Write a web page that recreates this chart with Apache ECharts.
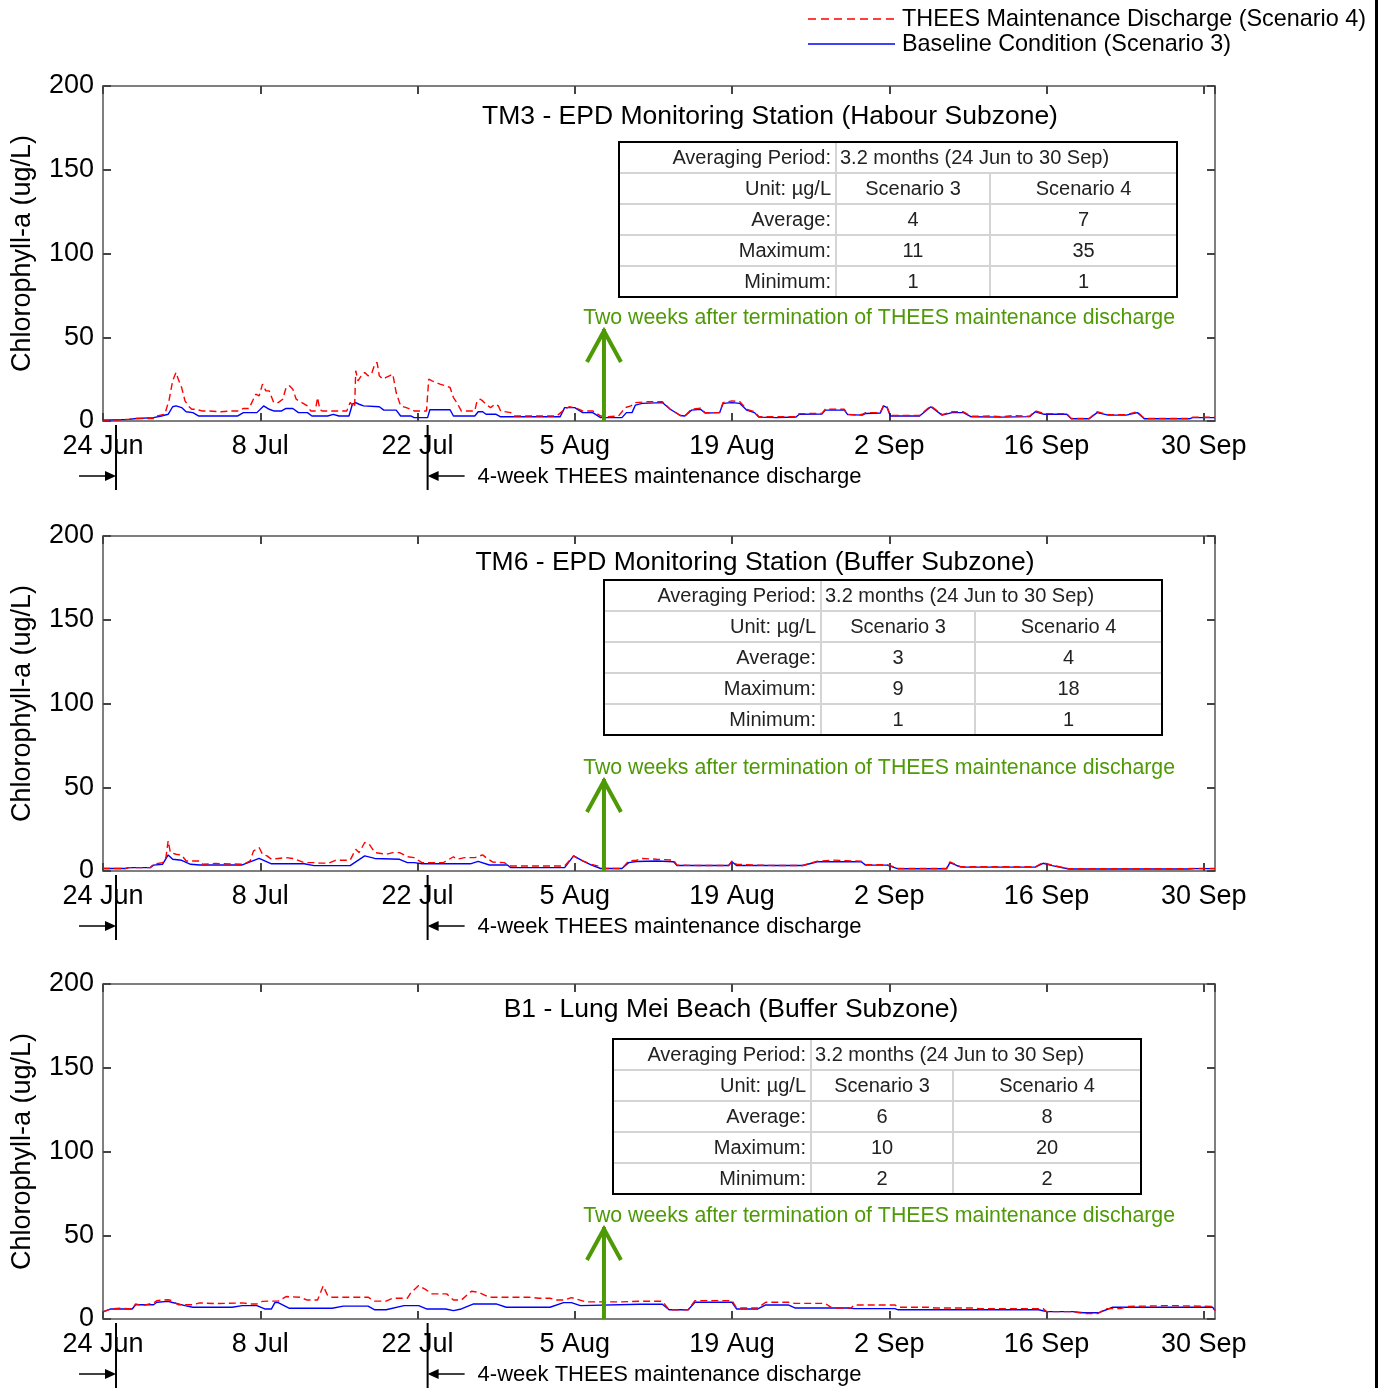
<!DOCTYPE html>
<html><head><meta charset="utf-8">
<script src="https://cdn.jsdelivr.net/npm/echarts@6/dist/echarts.min.js"></script>
<style>html,body{margin:0;padding:0;background:#fff}#c{width:1384px;height:1388px}</style>
</head><body><div id="c"></div>
<script>
// ---- data (x = days after 24 Jun, y = chlorophyll-a ug/L) ----
const tickLabels = ['24 Jun','8 Jul','22 Jul','5 Aug','19 Aug','2 Sep','16 Sep','30 Sep'];
const seriesNames = ['THEES Maintenance Discharge (Scenario 4)','Baseline Condition (Scenario 3)'];
const panelTitles = ['TM3 - EPD Monitoring Station (Habour Subzone)','TM6 - EPD Monitoring Station (Buffer Subzone)','B1 - Lung Mei Beach (Buffer Subzone)'];

const tm3S4 = [[0,0.5],[1,0.5],[2.3,1],[3,1.5],[4.5,1.5],[4.8,3],[5.5,4],[5.9,13],[6.2,24],[6.5,29],[6.7,25],[7,20],[7.3,12],[7.6,9],[7.9,7],[8.3,7],[8.8,6],[9.3,6],[10.5,5.5],[11.5,6],[12.1,6],[12.5,7.5],[13,7.5],[13.6,16],[13.9,15],[14.2,22],[14.5,18],[14.8,18],[15.2,11],[15.6,11],[16,13],[16.3,20],[16.6,21],[16.9,19],[17.2,13],[17.7,11],[18.2,9],[18.5,6],[18.9,6],[19.1,14],[19.3,7],[19.5,6],[20.5,6],[21.7,6],[22,11],[22.4,8],[22.5,30],[22.7,24],[23,27],[23.3,29],[23.6,27],[23.9,28],[24.2,34],[24.4,35],[24.6,27],[24.9,25],[25.2,26],[25.5,27],[25.8,28],[26.1,17],[26.5,9],[27,8],[27.4,7],[27.7,6],[28.3,6],[28.8,6],[29,25],[29.3,24],[30,22],[30.5,21],[30.9,20],[31.2,14],[31.5,11],[31.9,6],[32.5,6],[33.1,6],[33.3,12],[33.6,13],[33.8,12],[34.1,10],[34.5,8],[34.9,10],[35.2,9],[35.4,6],[36.3,5],[36.6,3],[38,3],[40.4,3],[41.1,7],[41.5,8.5],[42,8],[42.7,6],[43.6,6],[44.3,3],[45,2.5],[45.9,3],[46.5,8],[47,9],[47.4,11],[48.5,11.5],[49.8,11.5],[50.5,7],[51.4,3.3],[51.8,3],[52.4,7],[53.2,7.7],[53.6,5],[54.9,5],[55.2,11],[56,12],[56.7,11.5],[57.3,7],[58,5.5],[58.4,2.6],[60,2.5],[61.7,2.6],[62,4.4],[64,4.5],[64.3,7],[66,7],[66.3,4],[67.2,3.5],[67.6,4],[67.9,5],[69.2,5],[69.5,9.5],[69.8,8.5],[70.1,3.3],[72.7,3.3],[73.7,9],[74.7,3.8],[75.6,5.5],[76.6,5.5],[77.3,2.8],[79,3],[80,2.5],[81,3.2],[82.5,2.8],[83,6],[83.8,4.4],[85.8,4.4],[86.2,1.5],[87.8,1.5],[88.5,5.5],[89.5,3.8],[91.1,3.8],[92.1,5.5],[92.7,1.5],[96.7,1.5],[97,2.2],[99,2.2]];
const tm3S3 = [[0,0.5],[2.3,1],[3,1.5],[4.5,2],[5.2,3],[5.8,4],[6.2,8.5],[6.5,9],[7,8],[7.4,5.5],[8,5],[8.5,3],[10,3],[12,3],[12.5,5],[13.7,5],[14.3,9],[14.8,7],[15.2,6],[15.9,6],[16.3,7.5],[16.9,7.5],[17.4,5],[18.2,5],[18.6,3],[20,3],[20.5,4],[21,3],[21.9,3],[22.2,10],[22.5,11],[22.8,10],[23.2,9],[24.6,8.5],[25,6.5],[26.1,6.5],[26.5,3],[27.4,3],[27.7,2],[28.9,2],[29.1,6.7],[30.9,6.7],[31.2,3],[33.1,3],[33.4,5.5],[33.8,5.5],[34.1,4],[35,4],[35.4,2.5],[40.7,2.5],[41.1,8],[42,8],[42.7,5],[43.6,5],[44.3,2],[46.2,2],[46.6,5],[47.1,5],[47.4,9.5],[48,10.5],[49.8,11],[50.5,7],[51.4,3.3],[51.8,3],[52.4,6.5],[53.2,7],[53.6,4.8],[54.9,5],[55.2,10.5],[56,11],[56.7,10.5],[57.3,6.5],[58,5],[58.4,2.3],[60,2],[61.7,2.4],[62,4],[64,4.2],[64.3,6.5],[66,6.5],[66.3,3.8],[67.6,3.5],[67.9,4.5],[69.2,4.8],[69.5,9],[69.8,8],[70.1,3],[72.7,3],[73.7,8.5],[74.7,3.5],[75.6,5],[76.6,5],[77.3,2.5],[80,2.3],[82.5,2.6],[83,5.5],[83.8,4],[85.8,4],[86.2,1.3],[87.8,1.3],[88.5,5],[89.5,3.5],[91.1,3.5],[92.1,5],[92.7,1.3],[96.7,1.3],[97,2],[99,2]];

const tm6S4 = [[0,1.5],[2,1.5],[2.3,2],[4.2,2],[4.5,4],[5.3,5],[5.6,8],[5.8,18],[6,11],[6.5,10],[7,9.5],[7.4,6],[8.6,6],[8.9,4],[10,4.5],[12.4,4],[12.8,5],[13.1,6],[13.4,12],[13.9,14],[14.2,10],[14.6,9],[15,7],[15.6,7.5],[16.3,8],[16.9,7.5],[17.9,5],[18.8,5],[19.3,4.7],[20.1,4.7],[20.7,6.4],[22,6.4],[22.5,13],[22.8,11],[23.3,17],[23.7,16],[24.2,11],[25.2,10],[25.8,11],[26.4,11],[27.1,8.5],[27.7,8],[28.4,5],[30.3,5],[31.2,8.5],[31.5,7],[32.2,8],[33.1,8],[33.8,9.6],[34.1,8],[34.7,5.3],[35.7,5],[36.3,3],[41.1,3],[41.9,9],[42.7,6],[43.5,4],[44.3,2.5],[44.6,1.5],[46.2,1.5],[46.8,6],[47.5,6.4],[48,7.5],[49.3,7],[50.8,6.5],[51.1,3.5],[53,3.3],[55.7,3.3],[56,6],[56.4,4],[58,3.5],[60,3.3],[62.3,3.3],[63.6,5.8],[65,6.5],[67.5,5.8],[67.9,3.8],[69.8,3.8],[70.8,1.5],[75.1,1.5],[75.4,5.5],[76,3.5],[76.4,2.5],[80,2.5],[83,2.5],[83.7,5],[84.5,3.5],[86,1.3],[90,1.3],[96.5,1.3],[97.2,1.5],[99,1.5]];
const tm6S3 = [[0,1.5],[2,1.5],[2.3,2],[4.2,2],[4.5,3.5],[5.3,4],[5.8,9.6],[6.2,7],[7,6.4],[7.8,4],[8.6,3.6],[12.4,3.6],[13.9,7.5],[14.6,5.5],[15,4.3],[17.9,4.3],[18.8,3.2],[22,3.2],[23.3,9],[24.2,7.5],[26.4,7],[27.1,5],[27.7,5],[28.4,4.3],[32.7,4.3],[33.4,5.7],[34.4,3.6],[36,3.6],[36.3,2],[41.1,2],[41.9,9],[42.7,6],[43.5,3.5],[44.3,1.5],[46.2,1.5],[46.8,5],[47.5,5.7],[49.3,6],[50.8,5.5],[51.1,3.3],[55.7,3.3],[56,5.5],[56.4,3.3],[62.3,3.3],[63.6,5.5],[67.5,5.5],[67.9,3.5],[69.8,3.5],[70.8,1.3],[75.1,1.3],[75.4,5],[76,3.3],[76.4,2.3],[83,2.3],[83.7,4.6],[84.5,3.2],[86,1.2],[96.5,1.2],[97.2,1.4],[99,1.4]];

const b1S4 = [[0,4.3],[0.7,6],[1.5,6.5],[2.6,6],[2.9,9],[3.5,8],[4.5,9.5],[4.8,11],[5.8,11.5],[6.1,11],[6.7,8.5],[8,8.5],[8.6,9.6],[10,9.2],[12.4,9.6],[13.1,9],[13.7,9],[14.2,10.5],[14.7,10.7],[15.6,10.7],[16.3,13.4],[17.5,13],[18.2,11.3],[19.1,11.3],[19.6,19.8],[20,14],[20.4,13],[22,13],[23.6,13],[24.2,10.7],[25.2,10.7],[25.8,12.4],[27.1,12.4],[27.4,15.6],[28.1,20],[28.7,17.7],[29.3,15],[30.6,15],[31.2,11.3],[31.9,11.3],[32.8,16.6],[33.4,16],[34.4,13],[36,13],[37.9,13],[38.8,12.4],[39.8,12.4],[40.4,11.3],[41.1,11.3],[41.7,12.8],[43,10.2],[46,10.2],[47.8,10.6],[49.8,10.6],[50.4,5.5],[52.1,5.5],[52.7,11],[56,11],[56.4,6.6],[58.3,6.6],[59,10],[61,10],[61.6,9.3],[64.3,9.3],[64.9,6.6],[66.6,6.6],[66.9,8.4],[70.5,8.4],[70.8,7],[73.5,7],[74.1,6.6],[77.4,6.6],[78.1,6.2],[83.7,6.2],[84,4.4],[86.3,4.4],[87.3,3.3],[88.6,3.3],[89.3,6.2],[90.6,6.2],[91.2,7.5],[95,8],[98.8,7.5],[99,5]];
const b1S3 = [[0,4.3],[0.7,6],[2.6,6],[2.9,8.5],[4.5,8.5],[4.8,10],[5.8,10.5],[6.1,10],[7.3,8],[8,7],[11.5,7],[12.4,8],[13.7,8],[14.4,6],[15,6],[15.3,9.8],[15.6,9.8],[16.6,6.4],[20.4,6.4],[21.4,7.7],[23.6,7.7],[24.2,5.5],[25.2,5.5],[26.8,8],[28.1,8],[28.8,6],[30.5,6],[31.2,5],[31.9,6],[33,9],[35,9],[35.9,7],[39.8,7],[41,9.8],[41.7,9.8],[42.5,8],[47.8,8.8],[49.8,8.8],[50.4,5.5],[52.1,5.5],[52.7,10],[56,10],[56.4,6],[58.3,6],[59,8.4],[61,8.4],[61.6,6.6],[66.3,6.6],[66.9,6.2],[70.5,6.2],[70.8,5.5],[83.3,5.5],[84,4.4],[86.3,4.4],[87.3,3.7],[88.6,3.7],[89.9,7],[98.8,7],[99,5]];

const statLabels = ['Average:','Maximum:','Minimum:'];
const tm3Stats = [[4,7],[11,35],[1,1]];
const tm6Stats = [[3,4],[9,18],[1,1]];
const b1Stats  = [[6,8],[10,20],[2,2]];

const dischargeStartDay = 1.16, dischargeEndDay = 28.9, twoWeeksAfterDay = 44.6;

// ---- layout ----
const FONT = '"Liberation Sans", Arial, sans-serif';
const panels = [
  {s4: tm3S4, s3: tm3S3, stats: tm3Stats, top: 86, titleX: 770, titleDy: 31, tabX: 619, tabDy: 56, cols: [217,154,187]},
  {s4: tm6S4, s3: tm6S3, stats: tm6Stats, top: 536, titleX: 755, titleDy: 27, tabX: 604, tabDy: 44, cols: [217,154,187]},
  {s4: b1S4,  s3: b1S3,  stats: b1Stats,  top: 984, titleX: 731, titleDy: 26, tabX: 613, tabDy: 55, cols: [198,142,188]}
];
const GL = 103, GW = 1112, GH = 335;
const frame = {show: true, onZero: false, lineStyle: {color: '#555', width: 1.5}};
const tick = {show: true, inside: true, length: 8, lineStyle: {color: '#444', width: 2}};

const grid = [], xAxis = [], yAxis = [], series = [];
panels.forEach((p, i) => {
  grid.push({left: GL, width: GW, top: p.top, height: GH});
  xAxis.push({gridIndex: i, type: 'value', min: 0, max: 99, interval: 14, position: 'bottom',
    axisLine: frame, axisTick: tick, splitLine: {show: false},
    axisLabel: {fontSize: 27, color: '#000', fontFamily: FONT, margin: 12, showMaxLabel: false,
      formatter: v => (v % 14 === 0 ? tickLabels[v / 14] : '')}});
  xAxis.push({gridIndex: i, type: 'value', min: 0, max: 99, interval: 14, position: 'top',
    axisLine: frame, axisTick: tick, splitLine: {show: false}, axisLabel: {show: false}});
  yAxis.push({gridIndex: i, type: 'value', min: 0, max: 200, interval: 50, position: 'left',
    name: 'Chlorophyll-a (ug/L)', nameLocation: 'middle', nameGap: 67, nameRotate: 90,
    nameTextStyle: {fontSize: 27, color: '#000', fontFamily: FONT},
    axisLine: frame, axisTick: tick, splitLine: {show: false},
    axisLabel: {fontSize: 27, color: '#000', fontFamily: FONT, margin: 9}});
  yAxis.push({gridIndex: i, type: 'value', min: 0, max: 200, interval: 50, position: 'right',
    axisLine: frame, axisTick: tick, splitLine: {show: false}, axisLabel: {show: false}});
  series.push({name: seriesNames[1], type: 'line', xAxisIndex: 2 * i, yAxisIndex: 2 * i, data: p.s3,
    symbol: 'none', lineStyle: {color: '#0000ff', width: 1.4}, itemStyle: {color: '#0000ff'}, z: 2, animation: false});
  series.push({name: seriesNames[0], type: 'line', xAxisIndex: 2 * i, yAxisIndex: 2 * i, data: p.s4,
    symbol: 'none', lineStyle: {color: '#ff0000', width: 1.4, type: [7, 4]}, itemStyle: {color: '#ff0000'}, z: 3, animation: false});
});

const chart = echarts.init(document.getElementById('c'), null, {renderer: 'canvas'});
chart.setOption({
  animation: false,
  backgroundColor: '#fff',
  textStyle: {fontFamily: FONT},
  grid, xAxis, yAxis, series
});

// ---- annotations ----
const GREEN = '#4e9a06';
const g = [];
function txt(x, y, text, size, align, color, vAlign) {
  return {type: 'text', x, y, silent: true, z: 50,
    style: {text, font: size + 'px ' + FONT, fill: color || '#000', textAlign: align || 'left', align: align || 'left',
      textVerticalAlign: vAlign || 'middle', verticalAlign: vAlign || 'middle'}};
}
function line(x1, y1, x2, y2, stroke, w, dash) {
  const st = {stroke, lineWidth: w};
  if (dash) st.lineDash = dash;
  return {type: 'line', silent: true, z: 50, shape: {x1, y1, x2, y2}, style: st};
}
// legend (drawn as graphic so the icons are plain line samples)
g.push(line(808, 19, 895, 19, '#ff0000', 1.5, [8, 5]));
g.push(txt(902, 20, seriesNames[0], 23.4, 'left', '#000'));
g.push(line(808, 44, 895, 44, '#0000ff', 1.5));
g.push(txt(902, 45, seriesNames[1], 23.4, 'left', '#000'));

panels.forEach((p, i) => {
  const base = chart.convertToPixel({xAxisIndex: 2 * i, yAxisIndex: 2 * i}, [0, 0]);
  const axisY = base[1];
  // title
  g.push(txt(p.titleX, p.top + p.titleDy, panelTitles[i], 26.5, 'center'));
  // table
  const rowH = 31, c = p.cols, W = c[0] + c[1] + c[2], H = rowH * 5, x0 = p.tabX, y0 = p.top + p.tabDy;
  for (let r = 1; r < 5; r++) g.push(line(x0, y0 + r * rowH, x0 + W, y0 + r * rowH, '#d4d4d4', 2));
  g.push(line(x0 + c[0], y0, x0 + c[0], y0 + H, '#d4d4d4', 2));
  g.push(line(x0 + c[0] + c[1], y0 + rowH, x0 + c[0] + c[1], y0 + H, '#d4d4d4', 2));
  g.push({type: 'rect', silent: true, z: 51, shape: {x: x0, y: y0, width: W, height: H}, style: {fill: 'none', stroke: '#000', lineWidth: 2}});
  const tc = '#222', fs = 20;
  const cy = r => y0 + r * rowH + rowH / 2 + 1;
  g.push(txt(x0 + c[0] - 5, cy(0), 'Averaging Period:', fs, 'right', tc));
  g.push(txt(x0 + c[0] + 4, cy(0), '3.2 months (24 Jun to 30 Sep)', fs, 'left', tc));
  g.push(txt(x0 + c[0] - 5, cy(1), 'Unit: µg/L', fs, 'right', tc));
  g.push(txt(x0 + c[0] + c[1] / 2, cy(1), 'Scenario 3', fs, 'center', tc));
  g.push(txt(x0 + c[0] + c[1] + c[2] / 2, cy(1), 'Scenario 4', fs, 'center', tc));
  p.stats.forEach((row, k) => {
    g.push(txt(x0 + c[0] - 5, cy(k + 2), statLabels[k], fs, 'right', tc));
    g.push(txt(x0 + c[0] + c[1] / 2, cy(k + 2), String(row[0]), fs, 'center', tc));
    g.push(txt(x0 + c[0] + c[1] + c[2] / 2, cy(k + 2), String(row[1]), fs, 'center', tc));
  });
  // green arrow + text
  const xg = chart.convertToPixel({xAxisIndex: 2 * i}, twoWeeksAfterDay);
  const topA = axisY - 92;
  g.push(line(xg, axisY, xg, topA, GREEN, 4));
  g.push({type: 'polyline', silent: true, z: 50, shape: {points: [[xg - 17, topA + 33], [xg, topA + 2], [xg + 17, topA + 33]]},
    style: {stroke: GREEN, lineWidth: 4, fill: null}});
  g.push(txt(1175, p.top + 232, 'Two weeks after termination of THEES maintenance discharge', 21.3, 'right', GREEN));
  // 4-week discharge markers
  const xs = chart.convertToPixel({xAxisIndex: 2 * i}, dischargeStartDay);
  const xe = chart.convertToPixel({xAxisIndex: 2 * i}, dischargeEndDay);
  const ay = axisY + 55;
  g.push(line(xs, axisY + 4, xs, axisY + 69, '#000', 2));
  g.push(line(xe, axisY + 4, xe, axisY + 69, '#000', 2));
  g.push(line(xs - 37, ay, xs - 8, ay, '#000', 1.5));
  g.push({type: 'polygon', silent: true, z: 50, shape: {points: [[xs, ay], [xs - 11, ay - 5], [xs - 11, ay + 5]]}, style: {fill: '#000'}});
  g.push(line(xe + 8, ay, xe + 37, ay, '#000', 1.5));
  g.push({type: 'polygon', silent: true, z: 50, shape: {points: [[xe, ay], [xe + 11, ay - 5], [xe + 11, ay + 5]]}, style: {fill: '#000'}});
  g.push(txt(xe + 50, ay + 1, '4-week THEES maintenance discharge', 22, 'left', '#000'));
});
// page border on the right
g.push({type: 'rect', silent: true, z: 60, shape: {x: 1375, y: 0, width: 3, height: 1388}, style: {fill: '#000'}});
chart.setOption({graphic: g});
</script>
</body></html>
